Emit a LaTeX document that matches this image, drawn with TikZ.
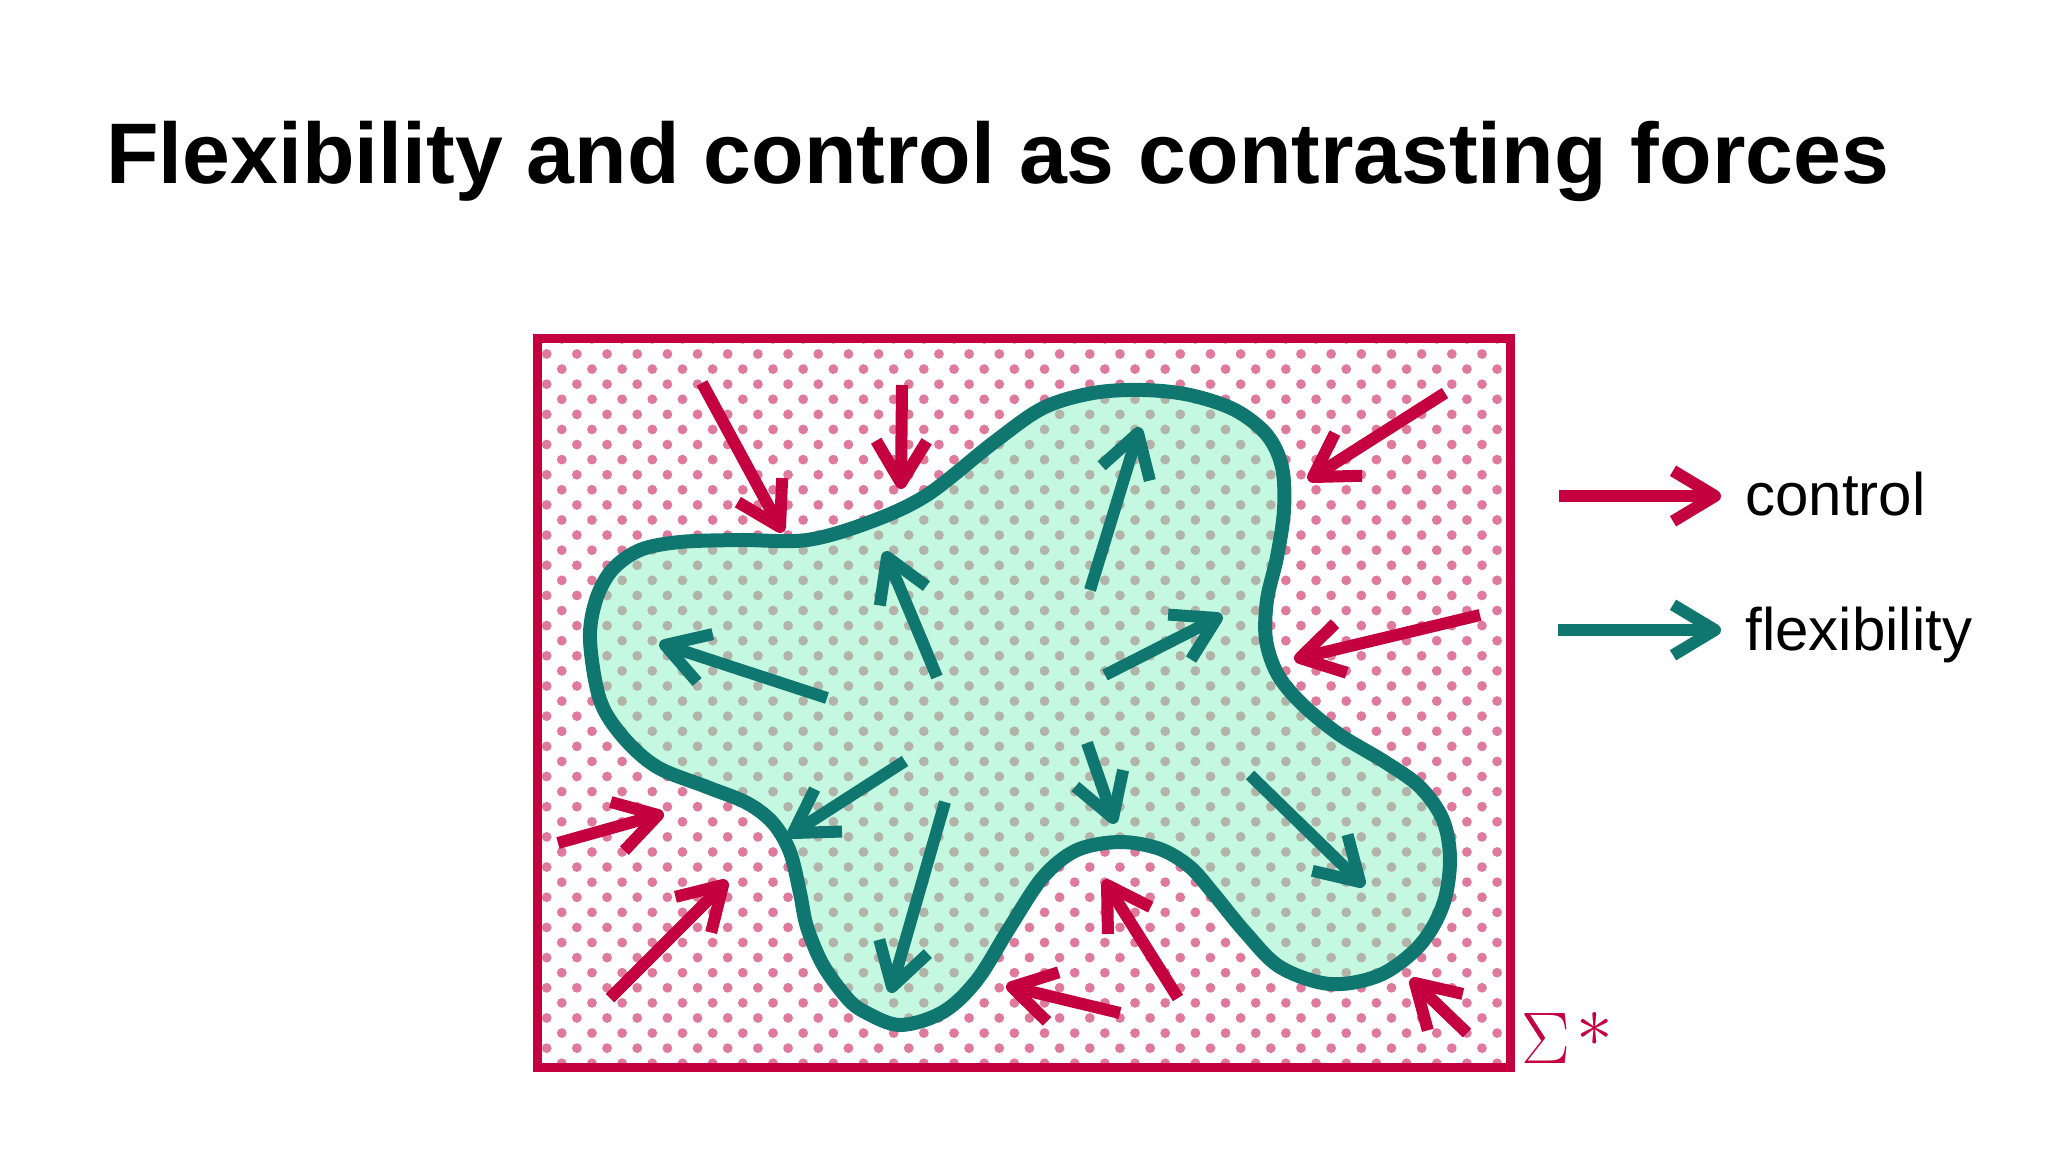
\documentclass[tikz,border=0pt]{standalone}
\usepackage{fontspec}
\setmainfont{Liberation Sans}
\usetikzlibrary{calc}
\definecolor{crim}{HTML}{C40040}
\definecolor{tealc}{HTML}{107670}
\definecolor{mint}{HTML}{C4F8E0}
\definecolor{pinkdot}{HTML}{E07A9C}
\definecolor{graydot}{HTML}{B2B4A9}
\tikzset{
  shaft/.style={line width=6pt, line cap=butt, shorten >=3pt},
  barb/.style={line width=6pt, line cap=butt, line join=round},
  lbl/.style={inner sep=0pt, anchor=base west},
}
\newcommand\forcearrow[3]{%
  \draw[#1, shaft] (#2) -- (#3);
  \draw[#1, barb] ($(#3)!24.5pt!31:(#2)$) -- (#3) -- ($(#3)!24.5pt!-31:(#2)$);
}
\newcommand\dotfield[1]{%
  \foreach \j [evaluate=\j as \yy using {338.9+15.09*\j}, evaluate=\j as \xo using {546.7+15.085*(1-mod(\j,2))}] in {0,...,49} {%
    \foreach \i in {0,...,33} {%
      \fill[#1] (\xo+30.17*\i,\yy) circle[radius=4.9];
    }%
  }%
}
\def\blobpath{plot[smooth cycle, tension=0.55] coordinates {
 (590,640) (596,600) (612,570) (640,550) (680,542) (740,540) (807,540) (870,522)
 (927,495) (993,443) (1043,408) (1093,393) (1143,390) (1190,395) (1235,410) (1267,435)
 (1282,467) (1284,510) (1277,557) (1267,600) (1266,640) (1278,675) (1303,705) (1340,735)
 (1385,762) (1420,787) (1443,820) (1450,860) (1443,905) (1420,945) (1380,975) (1330,984)
 (1280,967) (1245,932) (1213,893) (1190,867) (1160,849) (1120,842) (1077,850) (1043,877)
 (1010,927) (977,980) (943,1012) (900,1025) (865,1012) (847,998) (823,965) (807,927)
 (800,893) (790,852) (773,823) (747,803) (707,787) (657,767) (623,737) (600,700)}}
\begin{document}
\begin{tikzpicture}[x=0.5pt, y=-0.5pt]
\useasboundingbox (0,0) rectangle (2048,1152);
\fill[white] (0,0) rectangle (2048,1152);

% title
\node[lbl, font=\fontsize{43}{50}\selectfont\bfseries] (title) at (106,183) {Flexibility and control as contrasting forces};

% dotted field
\begin{scope}
  \clip (539,340) rectangle (1508,1065);
  \dotfield{pinkdot}
  \fill[mint] \blobpath;
  \clip \blobpath;
  \dotfield{graydot}
\end{scope}
\draw[tealc, line width=7pt, line join=round] \blobpath;

% frame
\draw[crim, line width=4.5pt] (537,338) rectangle (1510,1067);
\node[lbl, text=crim, font=\fontsize{24.88}{30}\selectfont] (sigma) at (1521,1063) {\scalebox{1.47}{$\Sigma\mkern1.5mu\raisebox{0.22em}{$*$}$}};

% control arrows
\coordinate (c1s) at (702,383);  \coordinate (c1t) at (780,527);
\coordinate (c2s) at (902,385);  \coordinate (c2t) at (901,483);
\coordinate (c3s) at (1445,393); \coordinate (c3t) at (1313,477);
\coordinate (c4s) at (1480,615); \coordinate (c4t) at (1300,658);
\coordinate (c5s) at (558,843);  \coordinate (c5t) at (658,815);
\coordinate (c6s) at (610,998);  \coordinate (c6t) at (723,885);
\coordinate (c7s) at (1120,1013); \coordinate (c7t) at (1012,987);
\coordinate (c8s) at (1178,998); \coordinate (c8t) at (1107,885);
\coordinate (c9s) at (1467,1033); \coordinate (c9t) at (1415,983);
\foreach \k in {1,...,9} {\forcearrow{crim}{c\k s}{c\k t}}

% flexibility arrows
\coordinate (f1s) at (827,698);  \coordinate (f1t) at (665,645);
\coordinate (f2s) at (937,677);  \coordinate (f2t) at (887,557);
\coordinate (f3s) at (1090,590); \coordinate (f3t) at (1138,433);
\coordinate (f4s) at (1105,675); \coordinate (f4t) at (1217,618);
\coordinate (f5s) at (905,761);  \coordinate (f5t) at (793,833);
\coordinate (f6s) at (945,802);  \coordinate (f6t) at (892,987);
\coordinate (f7s) at (1087,743); \coordinate (f7t) at (1113,818);
\coordinate (f8s) at (1250,775); \coordinate (f8t) at (1360,882);
\foreach \k in {1,...,8} {\forcearrow{tealc}{f\k s}{f\k t}}

% legend
\coordinate (lcs) at (1559,496); \coordinate (lct) at (1715,496);
\coordinate (lfs) at (1558,630); \coordinate (lft) at (1715,630);
\forcearrow{crim}{lcs}{lct}
\forcearrow{tealc}{lfs}{lft}
\node[lbl, font=\fontsize{30}{36}\selectfont] (lc) at (1745,515) {control};
\node[lbl, font=\fontsize{30}{36}\selectfont] (lf) at (1745,650) {flexibility};
\end{tikzpicture}
\end{document}
